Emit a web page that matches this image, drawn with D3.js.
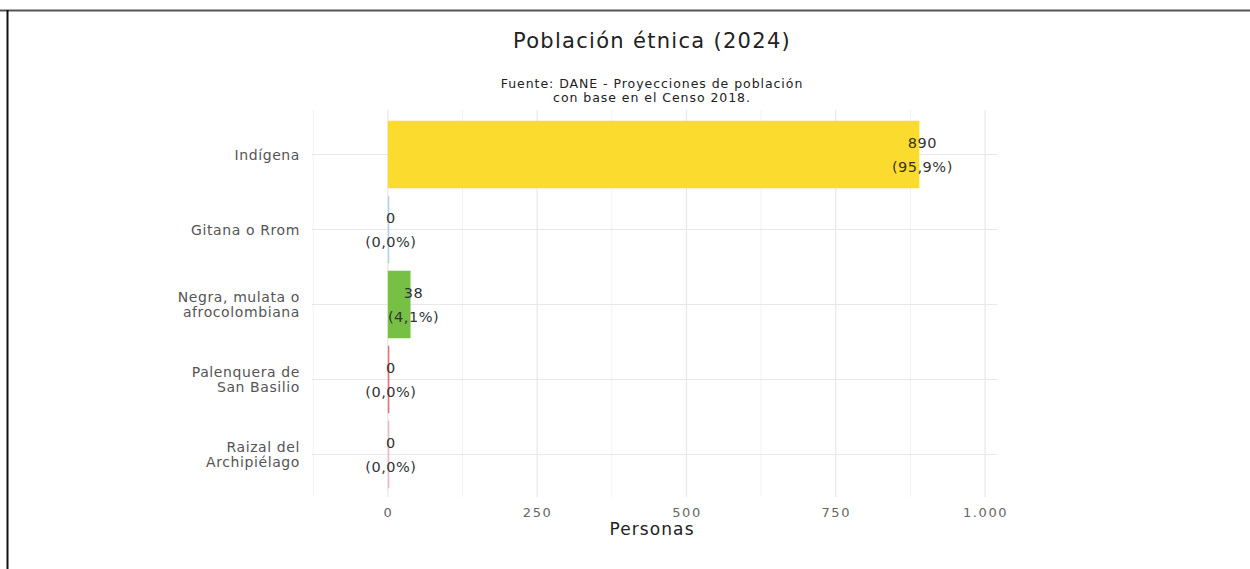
<!DOCTYPE html>
<html><head><meta charset="utf-8">
<script src="https://cdn.jsdelivr.net/npm/d3@7"></script>
<style>body{margin:0;background:#fff}svg{display:block}</style>
</head><body>
<svg id="c" width="1250" height="569"></svg>
<script>
const categories = ["Indígena","Gitana o Rrom","Negra, mulata o afrocolombiana","Palenquera de San Basilio","Raizal del Archipiélago"];
const categoryLines = [["Indígena"],["Gitana o Rrom"],["Negra, mulata o","afrocolombiana"],["Palenquera de","San Basilio"],["Raizal del","Archipiélago"]];
const values = [890, 0, 38, 0, 0];
const percents = ["95,9%","0,0%","4,1%","0,0%","0,0%"];
const colors = ["#FBDC2E","#B3D3EE","#76C043","#E8707A","#F2B8C4"];
const majorTicks = [0,250,500,750,1000];
const minorTicks = [-125,125,375,625,875];
const tickLabels = ["0","250","500","750","1.000"];

const FONT = "DejaVu Sans, Verdana, sans-serif";
const svg = d3.select("#c");
const x = d3.scaleLinear().domain([-127,1020]).range([312,997]);
const y = d3.scaleBand().domain(categories).range([117,492]).paddingInner(0.1).paddingOuter(0.05);

// borders
svg.append("line").attr("x1",0).attr("x2",1250).attr("y1",10.5).attr("y2",10.5).attr("stroke","#555").attr("stroke-width",2);
svg.append("line").attr("x1",7.5).attr("x2",7.5).attr("y1",10).attr("y2",569).attr("stroke","#111").attr("stroke-width",2);

const panelTop = 110, panelBottom = 497;
svg.append("g").selectAll("line").data(minorTicks).join("line")
  .attr("x1",d=>x(d)).attr("x2",d=>x(d)).attr("y1",panelTop).attr("y2",panelBottom)
  .attr("stroke","#f2f2f2").attr("stroke-width",1);
svg.append("g").selectAll("line").data(majorTicks).join("line")
  .attr("x1",d=>x(d)).attr("x2",d=>x(d)).attr("y1",panelTop).attr("y2",panelBottom)
  .attr("stroke","#e8e8e8").attr("stroke-width",1.2);
svg.append("g").selectAll("line").data(categories).join("line")
  .attr("x1",x.range()[0]).attr("x2",x.range()[1])
  .attr("y1",d=>y(d)+y.bandwidth()/2).attr("y2",d=>y(d)+y.bandwidth()/2)
  .attr("stroke","#e8e8e8").attr("stroke-width",1.2);

// bars
svg.append("g").selectAll("rect").data(categories).join("rect")
  .attr("x",x(0)).attr("y",d=>y(d))
  .attr("width",(d,i)=>Math.max(1.5, x(values[i])-x(0)))
  .attr("height",y.bandwidth())
  .attr("fill",(d,i)=>colors[i]);

// value labels
const lab = svg.append("g").attr("font-family",FONT).attr("font-size",14.5).attr("letter-spacing",0.5).attr("fill","#333").attr("text-anchor","middle");
categories.forEach((c,i)=>{
  const cx = x(values[i]) + 3, cy = y(c)+y.bandwidth()/2;
  lab.append("text").attr("x",cx).attr("y",cy-7).text(values[i]);
  lab.append("text").attr("x",cx).attr("y",cy+17).text("("+percents[i]+")");
});

// category labels
const cl = svg.append("g").attr("font-family",FONT).attr("font-size",14).attr("letter-spacing",0.6).attr("fill","#555").attr("text-anchor","end");
categories.forEach((c,i)=>{
  const lines = categoryLines[i];
  const cy = y(c)+y.bandwidth()/2;
  const t = cl.append("text").attr("x",300).attr("y",cy + 5 - (lines.length-1)*7.5);
  lines.forEach((l,j)=>t.append("tspan").attr("x",300).attr("dy",j?15:0).text(l));
});

// x axis
const ax = d3.axisBottom(x).tickValues(majorTicks).tickFormat((d,i)=>tickLabels[i]).tickSize(0).tickPadding(0);
const g = svg.append("g").attr("transform","translate(0,505)").call(ax);
g.select(".domain").remove();
g.selectAll("text").attr("font-family",FONT).attr("font-size",13).attr("letter-spacing",1.6).attr("fill","#666").attr("dy","0.9em");

svg.append("text").attr("x",652).attr("y",535).attr("text-anchor","middle")
  .attr("font-family",FONT).attr("font-size",17).attr("letter-spacing",1.1).attr("fill","#222").text("Personas");

// title
svg.append("text").attr("x",652).attr("y",48).attr("text-anchor","middle")
  .attr("font-family",FONT).attr("font-size",21).attr("letter-spacing",1.3).attr("fill","#222").text("Población étnica (2024)");
svg.append("text").attr("x",652).attr("y",88).attr("text-anchor","middle")
  .attr("font-family",FONT).attr("font-size",12.5).attr("letter-spacing",0.95).attr("fill","#222").text("Fuente: DANE - Proyecciones de población");
svg.append("text").attr("x",652).attr("y",102).attr("text-anchor","middle")
  .attr("font-family",FONT).attr("font-size",12.5).attr("letter-spacing",0.95).attr("fill","#222").text("con base en el Censo 2018.");
</script>
</body></html>
